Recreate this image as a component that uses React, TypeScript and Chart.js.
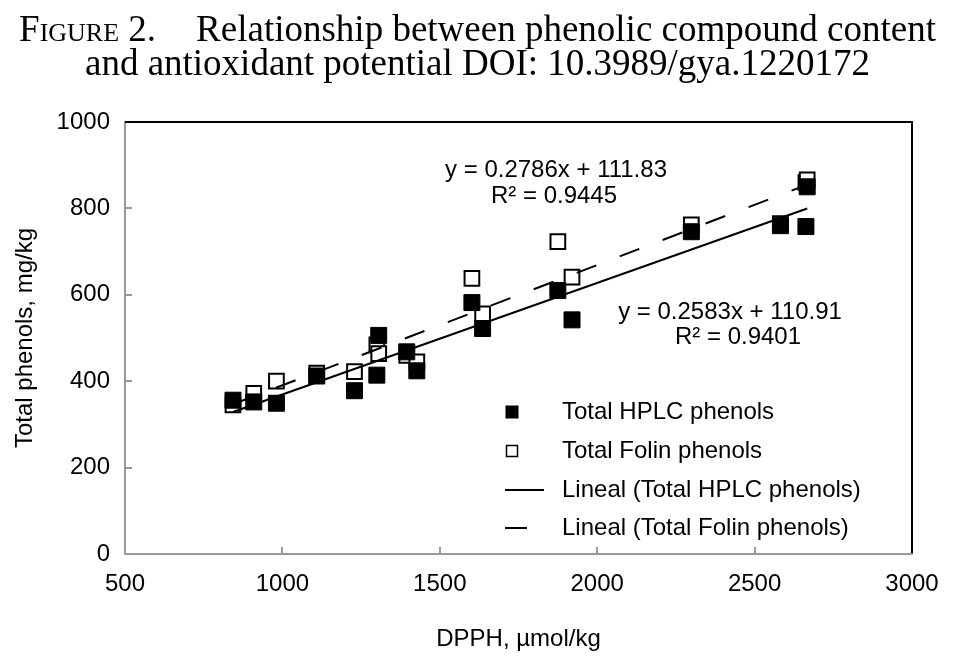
import React, { useRef, useEffect } from "react";
import { Chart, registerables } from "chart.js";

Chart.register(...registerables);

// DPPH (µmol/kg) for each sample, with both phenol measurements
const dpph = [843, 909, 981, 1109, 1229, 1300, 1306, 1395, 1427, 1602, 1636, 1875, 1920, 2299, 2582, 2663, 2667];
const hplcPhenols = [356, 352, 349, 412, 378, 414, 506, 468, 424, 582, 522, 610, 542, 746, 760, 758, 850];
const folinPhenols = [345, 372, 400, 419, 422, 484, 464, 460, 445, 638, 556, 723, 641, 762, 765, 860, 866];

const xTickValues = [500, 1000, 1500, 2000, 2500, 3000];
const yTickValues = [0, 200, 400, 600, 800, 1000];

// trendline coefficients as printed on the chart
const hplcSlope = 0.2583;
const hplcIntercept = 110.91;
const hplcR2 = 0.9401;
const folinSlope = 0.2786;
const folinIntercept = 111.83;
const folinR2 = 0.9445;

const FONT = '"Liberation Sans", Arial, sans-serif';

const trend = (slope: number, intercept: number) => {
  const lo = Math.min(...dpph);
  const hi = Math.max(...dpph);
  return [
    { x: lo, y: slope * lo + intercept },
    { x: hi, y: slope * hi + intercept },
  ];
};

const overlayPlugin = {
  id: "overlay",
  afterDraw(chart: Chart) {
    const { ctx, chartArea: a } = chart;
    ctx.save();

    // top and right frame lines are black
    ctx.strokeStyle = "#000";
    ctx.lineWidth = 2;
    ctx.beginPath();
    ctx.moveTo(a.left, a.top);
    ctx.lineTo(a.right, a.top);
    ctx.lineTo(a.right, a.bottom - 1);
    ctx.stroke();

    ctx.fillStyle = "#000";
    ctx.font = `24px ${FONT}`;
    ctx.textAlign = "center";
    ctx.textBaseline = "middle";
    ctx.fillText(`y = ${folinSlope}x + ${folinIntercept}`, 556, 170);
    ctx.fillText(`R² = ${folinR2}`, 554, 196);
    ctx.fillText(`y = ${hplcSlope}x + ${hplcIntercept}`, 730, 312);
    ctx.fillText(`R² = ${hplcR2}`, 738, 337);

    // legend inside the plot
    const labels = chart.data.datasets.map((d) => d.label as string);
    const rowY = [412, 451, 490, 528];
    const mx = 512;
    ctx.textAlign = "left";
    labels.forEach((label, i) => {
      ctx.fillText(label, 562, rowY[i]);
    });
    ctx.fillRect(mx - 6.5, rowY[0] - 6.5, 13, 13);
    ctx.lineWidth = 1.5;
    ctx.strokeRect(mx - 5.5, rowY[1] - 5.5, 11, 11);
    ctx.lineWidth = 2;
    ctx.beginPath();
    ctx.moveTo(505, rowY[2]);
    ctx.lineTo(544, rowY[2]);
    ctx.moveTo(505, rowY[3]);
    ctx.lineTo(527, rowY[3]);
    ctx.stroke();

    ctx.restore();
  },
};

const App: React.FC = () => {
  const canvasRef = useRef<HTMLCanvasElement | null>(null);
  const chartRef = useRef<Chart | null>(null);

  useEffect(() => {
    document.body.style.margin = "0";
    if (!canvasRef.current) return;
    if (chartRef.current) chartRef.current.destroy();

    chartRef.current = new Chart(canvasRef.current, {
      type: "scatter",
      data: {
        datasets: [
          {
            label: "Total HPLC phenols",
            data: dpph.map((x, i) => ({ x, y: hplcPhenols[i] })),
            pointStyle: "rect",
            pointRadius: 11.3,
            backgroundColor: "#000",
            borderColor: "#000",
            borderWidth: 1,
            order: 1,
          },
          {
            label: "Total Folin phenols",
            data: dpph.map((x, i) => ({ x, y: folinPhenols[i] })),
            pointStyle: "rect",
            pointRadius: 10.4,
            backgroundColor: "#fff",
            borderColor: "#000",
            borderWidth: 2,
            order: 2,
          },
          {
            label: "Lineal (Total HPLC phenols)",
            data: trend(hplcSlope, hplcIntercept),
            showLine: true,
            pointRadius: 0,
            borderColor: "#000",
            borderWidth: 2,
            order: 0,
          },
          {
            label: "Lineal (Total Folin phenols)",
            data: trend(folinSlope, folinIntercept),
            showLine: true,
            pointRadius: 0,
            borderColor: "#000",
            borderWidth: 2,
            borderDash: [21, 25],
            order: 0,
          },
        ],
      },
      options: {
        responsive: false,
        maintainAspectRatio: false,
        animation: false,
        layout: { padding: { left: 0, right: 43, top: 122, bottom: 0 } },
        plugins: {
          legend: { display: false },
          tooltip: { enabled: false },
        },
        scales: {
          x: {
            type: "linear",
            min: 500,
            max: 3000,
            afterBuildTicks: (s: any) => {
              s.ticks = xTickValues.map((value) => ({ value }));
            },
            afterFit: (s: any) => {
              s.height = 103;
              s.paddingLeft = 0;
              s.paddingRight = 0;
            },
            grid: { drawOnChartArea: false, tickLength: -7, color: "#999", lineWidth: 2 },
            border: { color: "#999", width: 2 },
            ticks: {
              color: "#000",
              padding: 23,
              font: { family: FONT, size: 24 },
              callback: (v: any) => String(v),
            },
            title: {
              display: true,
              text: "DPPH, µmol/kg",
              color: "#000",
              font: { family: FONT, size: 24 },
              padding: { top: 0, bottom: 3 },
            },
          },
          y: {
            type: "linear",
            min: 0,
            max: 1000,
            afterBuildTicks: (s: any) => {
              s.ticks = yTickValues.map((value) => ({ value }));
            },
            afterFit: (s: any) => {
              s.width = 125;
              s.paddingTop = 0;
              s.paddingBottom = 0;
            },
            grid: { drawOnChartArea: false, tickLength: -7, color: "#999", lineWidth: 2 },
            border: { color: "#999", width: 2 },
            ticks: {
              color: "#000",
              padding: 22,
              font: { family: FONT, size: 24 },
              callback: (v: any) => String(v),
            },
            title: {
              display: true,
              text: "Total phenols, mg/kg",
              color: "#000",
              font: { family: FONT, size: 24 },
              padding: { top: 11, bottom: 0 },
            },
          },
        },
      },
      plugins: [overlayPlugin],
    });

    return () => {
      if (chartRef.current) {
        chartRef.current.destroy();
        chartRef.current = null;
      }
    };
  }, []);

  return (
    <div style={{ position: "relative", width: 955, height: 657, background: "#fff", overflow: "hidden" }}>
      <canvas ref={canvasRef} width={955} height={657} style={{ position: "absolute", left: 0, top: 0 }} />
      <div
        style={{
          position: "absolute",
          left: 0,
          top: 12,
          width: 955,
          textAlign: "center",
          fontFamily: '"Liberation Serif", "Times New Roman", serif',
          fontSize: 37,
          lineHeight: "34px",
          color: "#000",
          whiteSpace: "nowrap",
        }}
      >
        <div>
          <span style={{ fontVariant: "small-caps" }}>Figure 2.</span>
          <span style={{ display: "inline-block", width: 40 }} />
          Relationship between phenolic compound content
        </div>
        <div>and antioxidant potential DOI: 10.3989/gya.1220172</div>
      </div>
    </div>
  );
};

export default App;
